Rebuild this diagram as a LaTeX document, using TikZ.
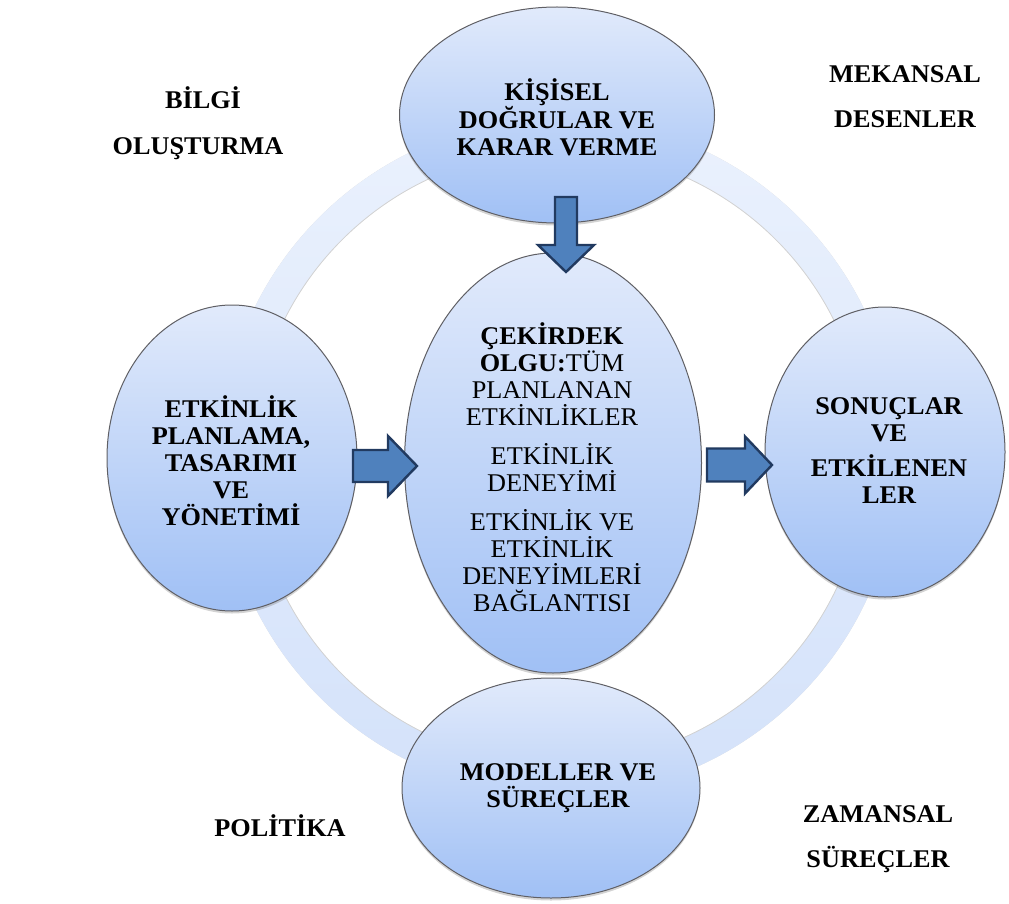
\documentclass[tikz,border=0pt]{standalone}
\usepackage{fontspec}
\setmainfont{Liberation Serif}[FakeStretch=1.03]
\usetikzlibrary{shapes.geometric,shadows}

\definecolor{ellTop}{RGB}{225,234,251}
\definecolor{ellBot}{RGB}{160,192,245}
\definecolor{ringTop}{RGB}{234,241,253}
\definecolor{ringBot}{RGB}{212,226,250}
\definecolor{arrFill}{RGB}{79,129,189}
\definecolor{arrLine}{RGB}{33,58,96}
\definecolor{edgeGray}{RGB}{95,95,100}

\tikzset{
  bubble/.style={ellipse, draw=edgeGray, line width=1pt,
    top color=ellTop, bottom color=ellBot, inner sep=0pt,
    drop shadow={opacity=0.35, shadow xshift=0pt, shadow yshift=-2.5pt}},
  txt/.style={align=center, inner sep=0pt, font=\fontsize{25.5}{27}\selectfont},
  btxt/.style={txt, font=\fontsize{25.5}{27}\selectfont\bfseries},
  side/.style={anchor=base, inner sep=0pt, font=\fontsize{25.5}{27}\selectfont\bfseries},
  blockarrow/.style={fill=arrFill, draw=arrLine, line width=2.4pt, line join=miter}
}

\begin{document}
\begin{tikzpicture}[x=1pt, y=-1pt]
\useasboundingbox (0,0) rectangle (1009,904);

% surrounding ring with its soft shadow
\coordinate (hub) at (559,457);
\fill[black, opacity=0.16, even odd rule, yshift=-3pt]
  (hub) circle[radius=339] (hub) circle[radius=307];
\shade[top color=ringTop, bottom color=ringBot, even odd rule]
  (hub) circle[radius=339] (hub) circle[radius=307];
\draw[gray!35, line width=0.8pt] (hub) circle[radius=307];

% the five ellipses
\node[bubble, minimum width=315pt, minimum height=216pt] (top) at (557,115) {};
\node[bubble, minimum width=250pt, minimum height=306pt] (left) at (232,458) {};
\node[bubble, minimum width=240pt, minimum height=290pt] (right) at (885,452) {};
\node[bubble, minimum width=298pt, minimum height=220pt] (bottom) at (551,788) {};
\node[bubble, minimum width=297pt, minimum height=420pt] (core) at (553,463) {};

% texts inside the ellipses
\node[btxt] (tTop) at (557,117) {KİŞİSEL\\DOĞRULAR VE\\KARAR VERME};
\node[btxt] (tLeft) at (231,461) {ETKİNLİK\\PLANLAMA,\\TASARIMI\\VE\\YÖNETİMİ};
\node[btxt] (tRight) at (889,451) {SONUÇLAR\\VE\\[8pt]ETKİLENEN\\LER};
\node[btxt] (tBottom) at (558,788) {MODELLER VE\\SÜREÇLER};
\node[txt] (tCore) at (552,467) {\textbf{ÇEKİRDEK}\\\textbf{OLGU:}TÜM\\PLANLANAN\\ETKİNLİKLER\\[12pt]ETKİNLİK\\DENEYİMİ\\[12pt]ETKİNLİK VE\\ETKİNLİK\\DENEYİMLERİ\\BAĞLANTISI};

% corner labels
\node[side] (bilgiA) at (203,109) {BİLGİ};
\node[side] (bilgiB) at (198,155) {OLUŞTURMA};
\node[side] (mekA) at (905,83) {MEKANSAL};
\node[side] (mekB) at (905,128) {DESENLER};
\node[side] (pol) at (280,836) {POLİTİKA};
\node[side] (zamA) at (878,822) {ZAMANSAL};
\node[side] (zamB) at (878,867) {SÜREÇLER};

% block arrows
\coordinate (dnTail) at (566,197);
\draw[blockarrow] (dnTail) ++(-11,0) -- ++(22,0) -- ++(0,48) -- ++(17,0)
  -- ++(-28,27) -- ++(-28,-27) -- ++(17,0) -- cycle;
\coordinate (lfTail) at (353,466);
\draw[blockarrow] (lfTail) ++(0,-16) -- ++(35,0) -- ++(0,-14) -- ++(29,30)
  -- ++(-29,30) -- ++(0,-14) -- ++(-35,0) -- cycle;
\coordinate (rtTail) at (707,465);
\draw[blockarrow] (rtTail) ++(0,-16.5) -- ++(38,0) -- ++(0,-12) -- ++(27,28.5)
  -- ++(-27,28.5) -- ++(0,-12) -- ++(-38,0) -- cycle;
\end{tikzpicture}
\end{document}
